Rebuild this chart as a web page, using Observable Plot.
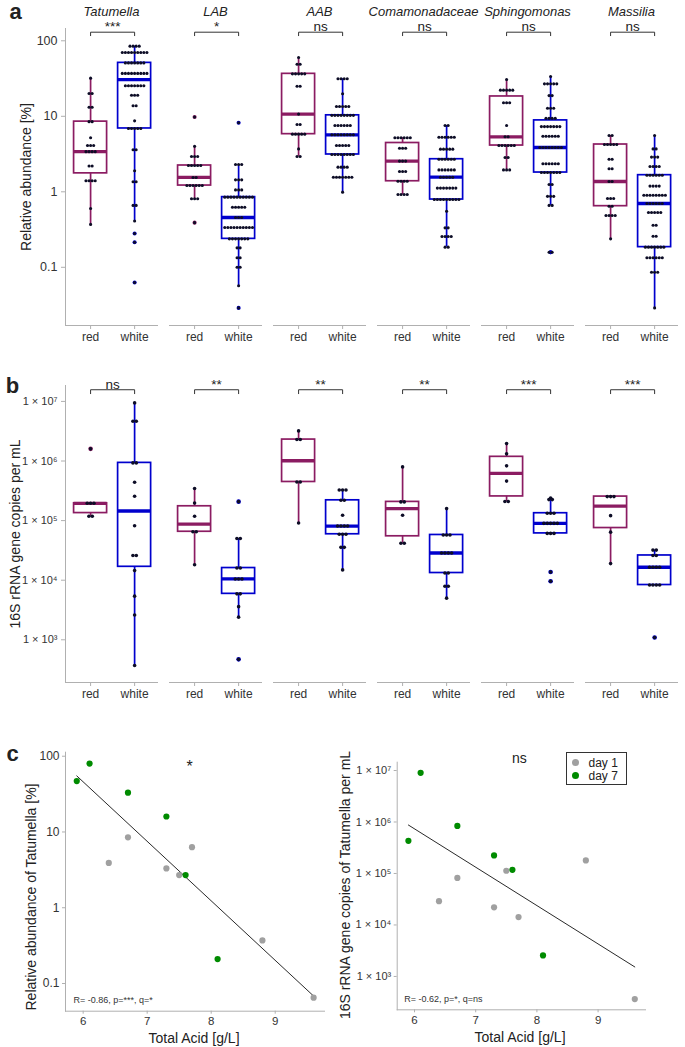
<!DOCTYPE html>
<html><head><meta charset="utf-8">
<script src="https://cdn.jsdelivr.net/npm/d3@7"></script>
<script src="https://cdn.jsdelivr.net/npm/@observablehq/plot@0.6"></script>
<style>
body{margin:0;background:#fff;}
#fig{position:relative;width:685px;height:1047px;font-family:"Liberation Sans",Arial,Helvetica,sans-serif;color:#222;overflow:hidden;background:#fff}
.pane{position:absolute}
.lab{position:absolute;white-space:nowrap;line-height:1}
</style></head><body><div id="fig"></div><script>
// ---------- categories ----------
const genera = ["Tatumella","LAB","AAB","Comamonadaceae","Sphingomonas","Massilia"];
const wines = ["red","white"];
const wineColors = ["#8B1C62","#0000CD"];
const dotColor = "#0d0d26";
const sigA = ["***","*","ns","ns","ns","ns"];
const sigB = ["ns","**","**","**","***","***"];

// ---------- panel a: relative abundance [%], rows of [value, number of dots] ----------
const aTatumellaRed = [[32,1],[20,2],[13.2,2],[8.5,2],[5.2,1],[4.1,3],[3.4,4],[2.2,2],[1.4,4],[0.6,1],[0.37,1]];
const aTatumellaWhite = [[85,4],[70,9],[51,7],[37,9],[25.4,7],[19,3],[13.8,2],[8.7,1],[6.9,5],[3.6,2],[1.9,1],[1.36,2],[0.66,2],[0.41,1],[0.28,1],[0.215,1],[0.063,1]];
const aLABRed = [[9.8,1],[4.0,1],[2.94,3],[2.23,5],[1.55,2],[1.21,6],[0.81,3],[0.39,1]];
const aLABWhite = [[8.2,1],[2.3,3],[1.44,3],[1.06,3],[0.85,10],[0.625,5],[0.457,3],[0.337,10],[0.238,7],[0.181,2],[0.134,2],[0.1,2],[0.057,1],[0.029,1]];
const aAABRed = [[60,1],[49,2],[36.5,5],[25,2],[10.7,1],[7.8,2],[5.8,5],[3.7,1],[2.94,2]];
const aAABWhite = [[31.4,4],[19.9,1],[13.5,5],[10.3,8],[7.55,6],[5.69,8],[4.1,5],[3.12,8],[2.12,4],[1.56,7],[0.99,1]];
const aComaRed = [[5.19,6],[3.78,3],[2.55,3],[1.86,3],[1.38,4],[0.92,4]];
const aComaWhite = [[7.55,2],[5.28,6],[3.67,5],[2.7,6],[1.95,6],[1.56,5],[1.12,7],[0.79,9],[0.553,1],[0.333,2],[0.256,4],[0.185,2]];
const aSphingoRed = [[30.7,1],[22.2,5],[15.1,3],[7.55,1],[5.35,2],[4.1,6],[2.85,2],[1.95,3]];
const aSphingoWhite = [[33.6,1],[26.9,5],[18.8,2],[12.8,3],[9.4,4],[7.3,7],[5.45,6],[3.86,8],[2.35,6],[1.8,7],[1.25,2],[0.87,3],[0.66,2],[0.158,2]];
const aMassiliaRed = [[5.57,2],[4.23,5],[2.7,2],[2.02,2],[1.37,2],[0.815,3],[0.645,2],[0.485,4],[0.238,1]];
const aMassiliaWhite = [[5.57,1],[3.7,2],[2.88,3],[2.16,4],[1.66,6],[1.19,4],[0.9,8],[0.7,6],[0.532,5],[0.361,2],[0.258,2],[0.185,7],[0.134,6],[0.086,3],[0.029,1]];

// ---------- panel b: 16S rRNA gene copies per mL ----------
const bTatumellaRed = [[1.6e6,1],[1.95e5,3],[1.18e5,2]];
const bTatumellaWhite = [[9.45e6,1],[4.65e6,2],[9.3e5,2],[4.4e5,1],[2.56e5,1],[8.2e4,1],[2.6e4,2],[1.45e4,1],[5.4e3,1],[2.6e3,1],[370,1]];
const bLABRed = [[3.45e5,1],[1.98e5,1],[1.18e5,1],[6.5e4,2],[1.82e4,1]];
const bLABWhite = [[2.08e5,1],[5e4,2],[1.6e4,2],[1.05e4,3],[5.9e3,2],[3.6e3,1],[2.4e3,1],[470,1]];
const bAABRed = [[3.2e6,1],[2.29e6,2],[4.45e5,2],[9.1e4,1]];
const bAABWhite = [[3.27e5,3],[2.19e5,2],[1.23e5,1],[8.1e4,4],[5.9e4,3],[3.56e4,2],[1.49e4,1]];
const bComaRed = [[7.96e5,1],[2.06e5,2],[1.23e5,1],[4.16e4,2]];
const bComaWhite = [[1.59e5,1],[5.74e4,3],[2.86e4,4],[1.32e4,2],[7.9e3,2],[5.0e3,1]];
const bSphingoRed = [[1.96e6,1],[1.32e6,1],[8.3e5,1],[4.6e5,1],[2.09e5,2]];
const bSphingoWhite = [[2.4e5,1],[2.25e5,2],[1.33e5,3],[9.0e4,5],[6.1e4,3],[1.37e4,1],[9.6e3,1]];
const bMassiliaRed = [[2.53e5,3],[1.21e5,1],[6.4e4,1],[1.9e4,1]];
const bMassiliaWhite = [[3.2e4,2],[2.6e4,2],[1.65e4,4],[8.3e3,4],[1.09e3,1]];

// ---------- panel c: Tatumella vs total acid ----------
const days = ["day 1","day 7"];
const dayColors = ["#a0a0a0","#008B00"];
const acidDay1 = [6.7, 6.4, 7.3, 7.5, 7.7, 8.8, 9.6];
const relAbDay1 = [8.5, 3.9, 3.3, 2.7, 6.3, 0.37, 0.065];
const copiesDay1 = [8.2e4, 2.9e4, 2.2e4, 1.13e5, 1.42e4, 1.79e5, 363];
const acidDay7 = [5.9, 6.1, 6.7, 7.3, 7.6, 8.1];
const relAbDay7 = [47, 80, 33, 16, 2.7, 0.21];
const copiesDay7 = [4.3e5, 9.0e6, 8.4e5, 2.24e5, 1.18e5, 2.56e3];
const statLeft = "R= -0.86, p=***, q=*";
const statRight = "R= -0.62, p=*, q=ns";
const sigLeft = "*", sigRight = "ns";

// ---------- helpers ----------
const FONT = "Liberation Sans, Arial, Helvetica, sans-serif";
const fig = document.getElementById("fig");
const AXIS = "#b0b0b0";
function place(node, left, top) {
  const d = document.createElement("div");
  d.className = "pane"; d.style.left = left + "px"; d.style.top = top + "px";
  d.appendChild(node); fig.appendChild(d);
}
function label(text, cx, cy, {size = 14, rotate = 0, weight = "normal", style = "normal"} = {}) {
  const d = document.createElement("div");
  d.className = "lab"; d.textContent = text;
  d.style.left = cx + "px"; d.style.top = cy + "px";
  d.style.fontSize = size + "px"; d.style.fontWeight = weight; d.style.fontStyle = style;
  d.style.transform = `translate(-50%,-50%)` + (rotate ? ` rotate(${rotate}deg)` : "");
  fig.appendChild(d);
}
const sup = s => String(s).split("").map(c => "⁰¹²³⁴⁵⁶⁷⁸⁹"[+c]).join("");

function boxPanel({rows, sig, yDomain, yTicks, yFormat, height, marginTop, marginBottom, dotR, dotPx, barY, tickY, genusLabels, fontTick}) {
  const xDom = [0.43, 2.52];
  const width = 685, mL = 64, mR = 6, pad = 0.113;
  const step = (width - mL - mR) / (genera.length - pad);
  const pxPerUnit = step * (1 - pad) / (xDom[1] - xDom[0]);
  const ddx = dotPx / pxPerUnit;
  const boxes = [], dots = [], outs = [];
  genera.forEach((genus, gi) => {
    rows[gi].forEach((groupRows, w) => {
      const vals = groupRows.flatMap(([v, n]) => Array(n).fill(v));
      const L = vals.map(Math.log10).sort(d3.ascending);
      const q1 = d3.quantileSorted(L, .25), med = d3.quantileSorted(L, .5), q3 = d3.quantileSorted(L, .75);
      const iqr = q3 - q1, lo = q1 - 1.5 * iqr, hi = q3 + 1.5 * iqr;
      const inside = L.filter(v => v >= lo - 1e-9 && v <= hi + 1e-9);
      boxes.push({genus, w, g: w + 1, q1: 10 ** q1, med: 10 ** med, q3: 10 ** q3, lo: 10 ** d3.min(inside), hi: 10 ** d3.max(inside)});
      L.filter(v => v < lo - 1e-9 || v > hi + 1e-9).forEach(v => outs.push({genus, w, g: w + 1, y: 10 ** v}));
      groupRows.forEach(([v, n]) => { for (let i = 0; i < n; i++) dots.push({genus, x: w + 1 + (i - (n - 1) / 2) * ddx, y: v}); });
    });
  });
  const sigRows = genera.map((g, i) => ({genus: g, label: sig[i]}));
  const bracket = sigRows.flatMap(d => [[1, tickY], [1, barY], [2, barY], [2, tickY]].map(([x, y]) => ({genus: d.genus, x, y})));
  const marks = [
    Plot.frame({anchor: "bottom", stroke: AXIS}),
    Plot.ruleX([genera[0]], {fx: d => d, x: () => xDom[0], stroke: AXIS}),
    Plot.axisY({ticks: yTicks, tickFormat: yFormat, tickSize: 4, tickPadding: 4, stroke: AXIS, fill: "#333", fontSize: fontTick, label: null}),
    Plot.axisX({ticks: [1, 2], tickFormat: d => wines[d - 1], tickSize: 4, tickPadding: 3, stroke: AXIS, fill: "#333", fontSize: 12, label: null})
  ];
  wines.forEach((wine, w) => {
    const c = wineColors[w];
    const bw = boxes.filter(b => b.w === w);
    marks.push(
      Plot.ruleX(bw, {fx: "genus", x: "g", y1: "lo", y2: "hi", stroke: c, strokeWidth: 1.7}),
      Plot.rect(bw, {fx: "genus", x1: d => d.g - 0.375, x2: d => d.g + 0.375, y1: "q1", y2: "q3", fill: "white", stroke: c, strokeWidth: 1.7}),
      Plot.ruleY(bw, {fx: "genus", x1: d => d.g - 0.375, x2: d => d.g + 0.375, y: "med", stroke: c, strokeWidth: 3.3}),
      Plot.dot(outs.filter(o => o.w === w), {fx: "genus", x: "g", y: "y", r: dotR + 0.5, fill: c})
    );
  });
  marks.push(
    Plot.dot(dots, {fx: "genus", x: "x", y: "y", r: dotR, fill: dotColor}),
    Plot.line(bracket, {fx: "genus", x: "x", y: "y", z: "genus", stroke: "#333", strokeWidth: 1}),
    Plot.text(sigRows, {fx: "genus", x: () => 1.5, y: () => barY, text: "label", lineAnchor: "bottom", dy: -1, fontSize: 13.5, fill: "#222"})
  );
  if (genusLabels) marks.push(Plot.text(genera, {fx: d => d, text: d => d, frameAnchor: "top", dy: -21.5, fontSize: 13, fontStyle: "italic", fill: "#222"}));
  return Plot.plot({
    width, height, marginLeft: mL, marginRight: mR, marginTop, marginBottom,
    style: {fontFamily: FONT, background: "transparent", overflow: "visible"},
    fx: {domain: genera, padding: pad, axis: null},
    x: {domain: xDom},
    y: {type: "log", domain: yDomain},
    marks
  });
}

// ---------- panel a ----------
place(boxPanel({
  rows: [[aTatumellaRed, aTatumellaWhite], [aLABRed, aLABWhite], [aAABRed, aAABWhite], [aComaRed, aComaWhite], [aSphingoRed, aSphingoWhite], [aMassiliaRed, aMassiliaWhite]],
  sig: sigA, yDomain: [0.01695, 145.5], yTicks: [0.1, 1, 10, 100], yFormat: d => String(d),
  height: 350, marginTop: 28, marginBottom: 25, dotR: 1.55, dotPx: 3.1, barY: 130, tickY: 117, genusLabels: true, fontTick: 12.5
}), 0, 0);

// ---------- panel b ----------
place(boxPanel({
  rows: [[bTatumellaRed, bTatumellaWhite], [bLABRed, bLABWhite], [bAABRed, bAABWhite], [bComaRed, bComaWhite], [bSphingoRed, bSphingoWhite], [bMassiliaRed, bMassiliaWhite]],
  sig: sigB, yDomain: [192, 1.85e7], yTicks: [1e3, 1e4, 1e5, 1e6, 1e7], yFormat: d => "1 × 10" + sup(Math.round(Math.log10(d))),
  height: 357, marginTop: 35, marginBottom: 25, dotR: 1.8, dotPx: 3.4, barY: 1.57e7, tickY: 1.35e7, genusLabels: false, fontTick: 11
}), 0, 350);

// ---------- panel c ----------
function regression(xs, ys) {
  const ly = ys.map(Math.log10);
  const mx = d3.mean(xs), my = d3.mean(ly);
  const b = d3.sum(xs, (x, i) => (x - mx) * (ly[i] - my)) / d3.sum(xs, x => (x - mx) ** 2);
  const a = my - b * mx;
  const ext = d3.extent(xs);
  return ext.map(x => ({x, y: 10 ** (a + b * x)}));
}
function scatter({width, mL, mR, mT, mB, xDom, yDom, yTicks, yFormat, day1Y, day7Y, sig, sigDx, sigDy, sigSize, stat, statDx, fontTick}) {
  const d1 = acidDay1.map((x, i) => ({x, y: day1Y[i]}));
  const d7 = acidDay7.map((x, i) => ({x, y: day7Y[i]}));
  const fit = regression(acidDay1.concat(acidDay7), day1Y.concat(day7Y));
  return Plot.plot({
    width, height: 340, marginLeft: mL, marginRight: mR, marginTop: mT, marginBottom: mB,
    style: {fontFamily: FONT, background: "transparent", overflow: "visible"},
    x: {domain: xDom}, y: {type: "log", domain: yDom},
    marks: [
      Plot.frame({anchor: "left", stroke: AXIS}),
      Plot.frame({anchor: "bottom", stroke: AXIS}),
      Plot.axisX({ticks: [6, 7, 8, 9], tickFormat: d => String(d), tickSize: 3, tickPadding: 3, stroke: AXIS, fill: "#333", fontSize: 11.5, label: null}),
      Plot.axisY({ticks: yTicks, tickFormat: yFormat, tickSize: 3, tickPadding: 3, stroke: AXIS, fill: "#333", fontSize: fontTick, label: null}),
      Plot.line(fit, {x: "x", y: "y", stroke: "#111", strokeWidth: 0.9}),
      Plot.dot(d1, {x: "x", y: "y", r: 3.1, fill: dayColors[0]}),
      Plot.dot(d7, {x: "x", y: "y", r: 3.1, fill: dayColors[1]}),
      Plot.text([sig], {frameAnchor: "top", dx: sigDx, dy: sigDy, fontSize: sigSize, fill: "#222"}),
      Plot.text([stat], {frameAnchor: "bottom-left", textAnchor: "start", dx: statDx, dy: -8, fontSize: 9, fill: "#333"})
    ]
  });
}
place(scatter({width: 340, mL: 65, mR: 16, mT: 44.7, mB: 36.3, xDom: [5.724, 9.77], yDom: [0.0431, 113],
  yTicks: [0.1, 1, 10, 100], yFormat: d => String(d), day1Y: relAbDay1, day7Y: relAbDay7,
  sig: sigLeft, sigDx: -5.5, sigDy: 8, sigSize: 16, stat: statLeft, statDx: 8, fontTick: 12}), 0, 707);
place(scatter({width: 355, mL: 66.7, mR: 40, mT: 54.7, mB: 37.7, xDom: [5.717, 9.775], yDom: [225, 1.45e7],
  yTicks: [1e3, 1e4, 1e5, 1e6, 1e7], yFormat: d => "1 × 10" + sup(Math.round(Math.log10(d))), day1Y: copiesDay1, day7Y: copiesDay7,
  sig: sigRight, sigDx: -2, sigDy: -9, sigSize: 14, stat: statRight, statDx: 7, fontTick: 11}), 330, 707);

// legend
const lg = document.createElement("div");
lg.style.cssText = "position:absolute;left:565.5px;top:752px;width:59px;height:31px;border:1px solid #333;background:#fff";
days.forEach((d, i) => {
  const row = document.createElement("div");
  row.style.cssText = `position:absolute;left:0;top:${3 + i * 13}px;height:13px;display:flex;align-items:center;font-size:12px;white-space:nowrap`;
  const dot = document.createElement("span");
  dot.style.cssText = `display:inline-block;width:7px;height:7px;border-radius:50%;background:${dayColors[i]};margin-left:5px;margin-right:10px`;
  row.appendChild(dot); row.appendChild(document.createTextNode(d));
  lg.appendChild(row);
});
fig.appendChild(lg);

// panel letters & axis titles
label("a", 15.5, 11.5, {size: 22, weight: "bold"});
label("b", 12.5, 386, {size: 22, weight: "bold"});
label("c", 12.5, 754, {size: 22, weight: "bold"});
label("Relative abundance [%]", 26, 176.5, {rotate: -90});
label("16S rRNA gene copies per mL", 14.5, 533.5, {rotate: -90});
label("Relative abundance of  Tatumella [%]", 31, 897, {rotate: -90});
label("16S rRNA gene copies of Tatumella per mL", 345, 885, {rotate: -90});
label("Total Acid [g/L]", 194, 1037.5);
label("Total Acid [g/L]", 520, 1037);
</script></body></html>
